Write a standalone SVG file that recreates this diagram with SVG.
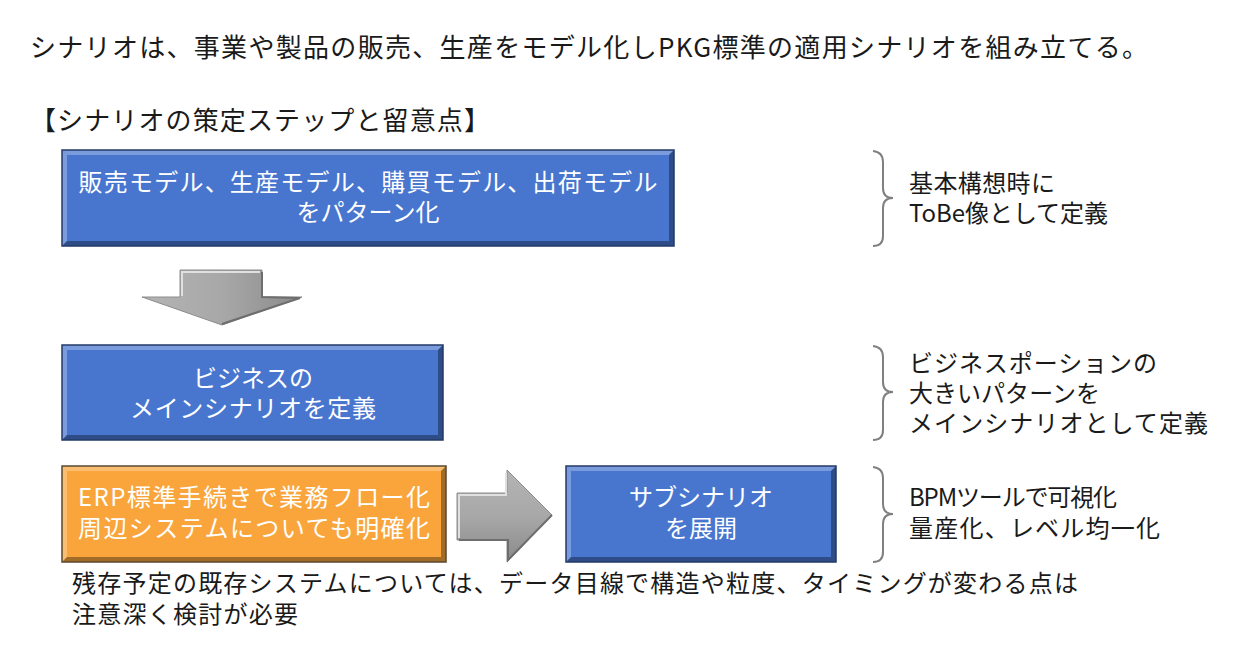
<svg xmlns="http://www.w3.org/2000/svg" width="1250" height="665" viewBox="0 0 1250 665">
<style>
.t{font-family:"Noto Sans CJK JP","Noto Sans",sans-serif;font-size:24px;fill:#1a1a1a}
.big{font-size:26px}
.w{fill:#ffffff;text-anchor:middle}
.blue{fill:#4876cf}
.orange{fill:#f9a53c}
.hl{fill:#ffffff;opacity:0.28}
.sh{fill:#000000;opacity:0.35}
.edge{fill:none;stroke:#253a66;stroke-width:1.5}
.brace{fill:none;stroke:#808080;stroke-width:2}
</style>
<defs>
<linearGradient id="gv" x1="0" y1="0" x2="1" y2="0">
<stop offset="0" stop-color="#b4b4b4"/><stop offset="0.5" stop-color="#a8a8a8"/><stop offset="1" stop-color="#8a8a8a"/>
</linearGradient>
<linearGradient id="gh" x1="0" y1="0" x2="0" y2="1">
<stop offset="0" stop-color="#b4b4b4"/><stop offset="0.5" stop-color="#a8a8a8"/><stop offset="1" stop-color="#8a8a8a"/>
</linearGradient>
</defs>

<g id="title">
<text class="t big" x="30" y="57" textLength="1118">シナリオは、事業や製品の販売、生産をモデル化しPKG標準の適用シナリオを組み立てる。</text>
<text class="t big" x="30" y="130" textLength="460">【シナリオの策定ステップと留意点】</text>
</g>

<g id="box1">
<rect class="blue" x="62" y="150" width="612" height="96"/>
<polygon class="hl" points="62,150 674,150 669,155 67,155"/>
<polygon class="hl" points="62,150 67,155 67,241 62,246"/>
<polygon class="sh" points="62,246 674,246 669,241 67,241"/>
<polygon class="sh" points="674,150 674,246 669,241 669,155"/>
<rect class="edge" x="62" y="150" width="612" height="96"/>
<text class="t w" x="368" y="191" textLength="579">販売モデル、生産モデル、購買モデル、出荷モデル</text>
<text class="t w" x="368" y="221">をパターン化</text>
</g>

<g id="box2">
<rect class="blue" x="62" y="345" width="381" height="95"/>
<polygon class="hl" points="62,345 443,345 438,350 67,350"/>
<polygon class="hl" points="62,345 67,350 67,435 62,440"/>
<polygon class="sh" points="62,440 443,440 438,435 67,435"/>
<polygon class="sh" points="443,345 443,440 438,435 438,350"/>
<rect class="edge" x="62" y="345" width="381" height="95"/>
<text class="t w" x="253" y="387">ビジネスの</text>
<text class="t w" x="253" y="417" textLength="246">メインシナリオを定義</text>
</g>

<g id="box3">
<rect class="orange" x="62" y="466" width="384" height="96"/>
<polygon class="hl" points="62,466 446,466 441,471 67,471"/>
<polygon class="hl" points="62,466 67,471 67,557 62,562"/>
<polygon class="sh" points="62,562 446,562 441,557 67,557"/>
<polygon class="sh" points="446,466 446,562 441,557 441,471"/>
<rect class="edge" x="62" y="466" width="384" height="96" style="stroke:#5a4a30"/>
<text class="t w" x="254" y="506" textLength="352">ERP標準手続きで業務フロー化</text>
<text class="t w" x="254" y="537" textLength="352">周辺システムについても明確化</text>
</g>

<g id="box4">
<rect class="blue" x="566" y="466" width="270" height="96"/>
<polygon class="hl" points="566,466 836,466 831,471 571,471"/>
<polygon class="hl" points="566,466 571,471 571,557 566,562"/>
<polygon class="sh" points="566,562 836,562 831,557 571,557"/>
<polygon class="sh" points="836,466 836,562 831,557 831,471"/>
<rect class="edge" x="566" y="466" width="270" height="96"/>
<text class="t w" x="701" y="506">サブシナリオ</text>
<text class="t w" x="701" y="537">を展開</text>
</g>

<g id="connectors">
<polygon fill="url(#gv)" stroke="#8c8c8c" stroke-width="1" points="180,270 262,270 262,297 302,297 222,325 142,297 180,297"/>
<polyline fill="none" stroke="#e0e0e0" stroke-width="2" points="182,296 182,272 260,272"/>
<polyline fill="none" stroke="#6e6e6e" stroke-width="2" points="262,272 262,297 300,298 222,324"/>
<polygon fill="url(#gh)" stroke="#8c8c8c" stroke-width="1" points="457,493 507,493 507,470 552,515 507,562 507,540 457,540"/>
<polyline fill="none" stroke="#e0e0e0" stroke-width="2" points="459,538 459,495 506,495 506,473"/>
<polyline fill="none" stroke="#6e6e6e" stroke-width="2" points="552,515 508,560 508,540 459,540"/>
</g>

<g id="note1">
<path class="brace" d="M873,151 Q883,152 883,162 L883,188 Q883,198 893,198 Q883,198 883,208 L883,236 Q883,246 873,246"/>
<text class="t" x="909" y="192" textLength="146">基本構想時に</text>
<text class="t" x="909" y="222" textLength="199">ToBe像として定義</text>
</g>

<g id="note2">
<path class="brace" d="M873,346 Q883,347 883,357 L883,382 Q883,392 893,392 Q883,392 883,402 L883,430 Q883,440 873,440"/>
<text class="t" x="909" y="372" textLength="248">ビジネスポーションの</text>
<text class="t" x="909" y="402" textLength="191">大きいパターンを</text>
<text class="t" x="909" y="432" textLength="299">メインシナリオとして定義</text>
</g>

<g id="note3">
<path class="brace" d="M873,467 Q883,468 883,478 L883,504 Q883,514 893,514 Q883,514 883,524 L883,552 Q883,562 873,562"/>
<text class="t" x="909" y="506" textLength="208">BPMツールで可視化</text>
<text class="t" x="909" y="537" textLength="251">量産化、レベル均一化</text>
</g>

<g id="footnote">
<text class="t" x="72" y="592" textLength="1006">残存予定の既存システムについては、データ目線で構造や粒度、タイミングが変わる点は</text>
<text class="t" x="72" y="623" textLength="226">注意深く検討が必要</text>
</g>
</svg>
